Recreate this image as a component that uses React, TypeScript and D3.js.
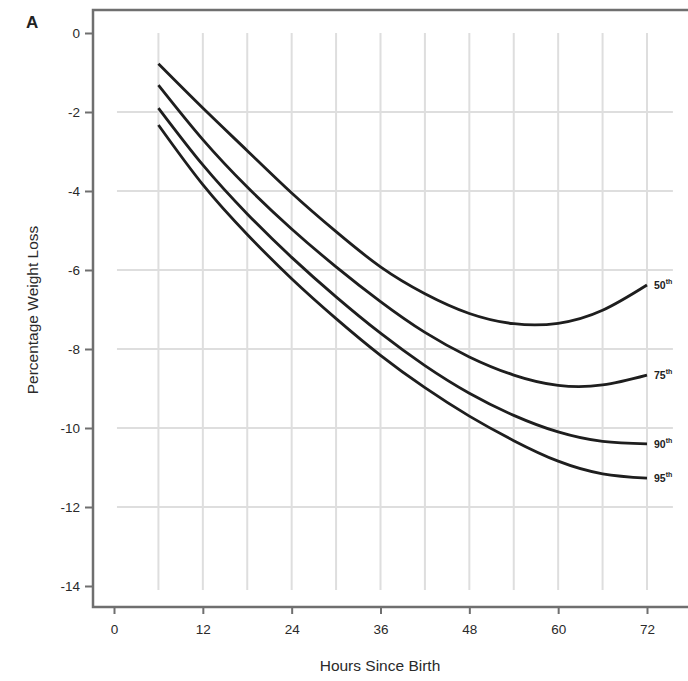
import React, { useEffect, useRef } from 'react';
import * as d3 from 'd3';

// data
const hours = [6, 12, 18, 24, 30, 36, 42, 48, 54, 60, 66, 72];
const p50 = [-0.78, -1.9, -2.98, -4.05, -5.03, -5.92, -6.6, -7.1, -7.36, -7.35, -7.02, -6.38];
const p75 = [-1.32, -2.7, -3.9, -4.96, -5.92, -6.8, -7.58, -8.2, -8.66, -8.92, -8.91, -8.66];
const p90 = [-1.9, -3.34, -4.58, -5.68, -6.68, -7.6, -8.42, -9.12, -9.68, -10.1, -10.34, -10.4];
const p95 = [-2.33, -3.84, -5.1, -6.22, -7.23, -8.16, -8.98, -9.7, -10.32, -10.84, -11.16, -11.27];
const centiles = ['50', '75', '90', '95'];
const xTicks = [0, 12, 24, 36, 48, 60, 72];
const yTicks = [0, -2, -4, -6, -8, -10, -12, -14];
const xGrid = [6, 12, 18, 24, 30, 36, 42, 48, 54, 60, 66, 72];
const yGrid = [-2, -4, -6, -8, -10, -12];

const width = 688;
const height = 681;

const App = () => {
    const ref = useRef<SVGSVGElement>(null);

    // frame
    const frame_x0 = 93;
    const frame_y0 = 10;
    const frame_y1 = 607;
    const font = 'Liberation Sans, Arial, sans-serif';

    useEffect(() => {
        const svg = d3.select(ref.current);
        svg.selectAll('*').remove();

        const xScale = d3.scaleLinear().domain([0, 72]).range([114, 647]);
        const yScale = d3.scaleLinear().domain([0, -14]).range([33, 586]);

        // grid
        svg.append('g').selectAll('line')
            .data(xGrid)
            .enter().append('line')
            .attr('x1', d => xScale(d)).attr('x2', d => xScale(d))
            .attr('y1', yScale(0)).attr('y2', yScale(-14.1))
            .attr('stroke', '#dedede').attr('stroke-width', 2);

        svg.append('g').selectAll('line')
            .data(yGrid)
            .enter().append('line')
            .attr('x1', xScale(0.4)).attr('x2', xScale(75.5))
            .attr('y1', d => yScale(d)).attr('y2', d => yScale(d))
            .attr('stroke', '#dedede').attr('stroke-width', 2);

        // frame (top, left, bottom)
        svg.append('path')
            .attr('d', `M${width + 5},${frame_y0} H${frame_x0} V${frame_y1} H${width + 5}`)
            .attr('fill', 'none')
            .attr('stroke', '#6f6f6f')
            .attr('stroke-width', 2.5);

        // y axis ticks
        const yAxis = svg.append('g')
            .attr('transform', `translate(${frame_x0},0)`)
            .call(d3.axisLeft(yScale).tickValues(yTicks).tickSize(8).tickPadding(5).tickFormat(d => `${d}`.replace('−', '-')));
        yAxis.select('.domain').remove();
        yAxis.selectAll('line').attr('stroke', '#6f6f6f').attr('stroke-width', 2);
        yAxis.selectAll('text')
            .attr('fill', '#2a2a2a')
            .style('font-family', font)
            .style('font-size', '13.5px');

        // x axis ticks
        const xAxis = svg.append('g')
            .attr('transform', `translate(0,${frame_y1})`)
            .call(d3.axisBottom(xScale).tickValues(xTicks).tickSize(7).tickPadding(10));
        xAxis.select('.domain').remove();
        xAxis.selectAll('line').attr('stroke', '#6f6f6f').attr('stroke-width', 2);
        xAxis.selectAll('text')
            .attr('fill', '#2a2a2a')
            .style('font-family', font)
            .style('font-size', '13.5px');

        // curves
        const series = [p50, p75, p90, p95];
        const line = d3.line<number>()
            .x((d, i) => xScale(hours[i]))
            .y(d => yScale(d))
            .curve(d3.curveNatural);

        svg.append('g').selectAll('path')
            .data(series)
            .enter().append('path')
            .attr('d', d => line(d))
            .attr('fill', 'none')
            .attr('stroke', '#1e1e1e')
            .attr('stroke-width', 2.8);

        // centile labels
        const labels = svg.append('g').selectAll('text')
            .data(series)
            .enter().append('text')
            .attr('x', xScale(72) + 7)
            .attr('y', d => yScale(d[d.length - 1]) + 4)
            .attr('fill', '#222')
            .style('font-family', font)
            .style('font-size', '10.5px')
            .style('font-weight', 'bold');
        labels.append('tspan').text((d, i) => centiles[i]);
        labels.append('tspan')
            .attr('dy', -5)
            .style('font-size', '7px')
            .text('th');

        // axis titles
        svg.append('text')
            .attr('x', 380)
            .attr('y', 671)
            .attr('text-anchor', 'middle')
            .attr('fill', '#2a2a2a')
            .style('font-family', font)
            .style('font-size', '15.5px')
            .text('Hours Since Birth');

        svg.append('text')
            .attr('transform', `translate(38,310) rotate(-90)`)
            .attr('text-anchor', 'middle')
            .attr('fill', '#2a2a2a')
            .style('font-family', font)
            .style('font-size', '15.5px')
            .text('Percentage Weight Loss');

        // panel letter
        svg.append('text')
            .attr('x', 26)
            .attr('y', 28)
            .attr('fill', '#222')
            .style('font-family', font)
            .style('font-size', '17px')
            .style('font-weight', 'bold')
            .text('A');
    }, []);

    return (
        <svg
            ref={ref}
            width={width}
            height={height}
            style={{ position: 'absolute', left: 0, top: 0, background: '#fff' }}
        />
    );
};

export default App;
